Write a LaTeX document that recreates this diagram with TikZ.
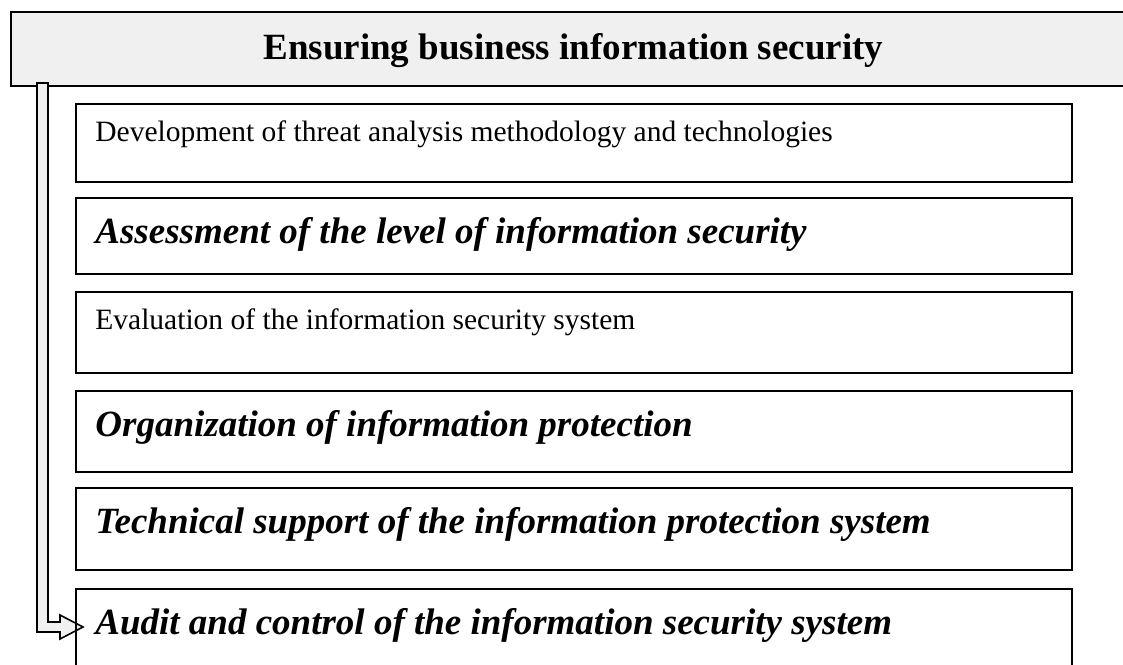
\documentclass[tikz,border=0pt]{standalone}
\usepackage{fontspec}
\setmainfont{Liberation Serif}
\usetikzlibrary{positioning}
\definecolor{headgray}{RGB}{240, 240, 240}

\tikzset{
  itembox/.style={draw, line width=1.8pt, anchor=north west, minimum width=996pt,
    text width=957pt, inner xsep=19.5pt, inner ysep=0pt, align=flush left},
  plainbox/.style={itembox, font=\fontsize{29.5}{35}\selectfont, text height=38pt},
  keybox/.style={itembox, font=\fontsize{37}{44}\selectfont\bfseries\itshape, text height=45.5pt}
}

\begin{document}
\begin{tikzpicture}[x=1pt, y=-1pt]
  \useasboundingbox (0,0) rectangle (1123,664);

  % title bar, runs off the right edge
  \node[draw, line width=1.8pt, fill=headgray, anchor=north west, minimum width=1125pt,
    inner ysep=0pt, text height=47.5pt, text depth=26.5pt,
    font=\fontsize{37}{44}\selectfont\bfseries] (title) at (10,11) {Ensuring business information security};

  % block arrow down the left side
  \draw[line width=1.6pt, fill=headgray]
    (37,83) -- (48,83) -- (48,622) -- (60,622) -- (60,615) -- (83,627)
    -- (60,639) -- (60,632) -- (37,632) -- cycle;

  \node[plainbox, text depth=40pt] (threat) at (75,103) {Development of threat analysis methodology and technologies};
  \node[keybox, text depth=30.5pt] (assess) at (75,197) {Assessment of the level of information security};
  \node[plainbox, text depth=43pt] (evalsys) at (75,291) {Evaluation of the information security system};
  \node[keybox, text depth=35.5pt] (orgprot) at (75,390) {Organization of information protection};
  \node[keybox, text depth=36.5pt] (techsup) at (75,487) {Technical support of the information protection system};
  \node[keybox, text depth=36pt] (audit) at (75,588) {Audit and control of the information security system};
\end{tikzpicture}
\end{document}
